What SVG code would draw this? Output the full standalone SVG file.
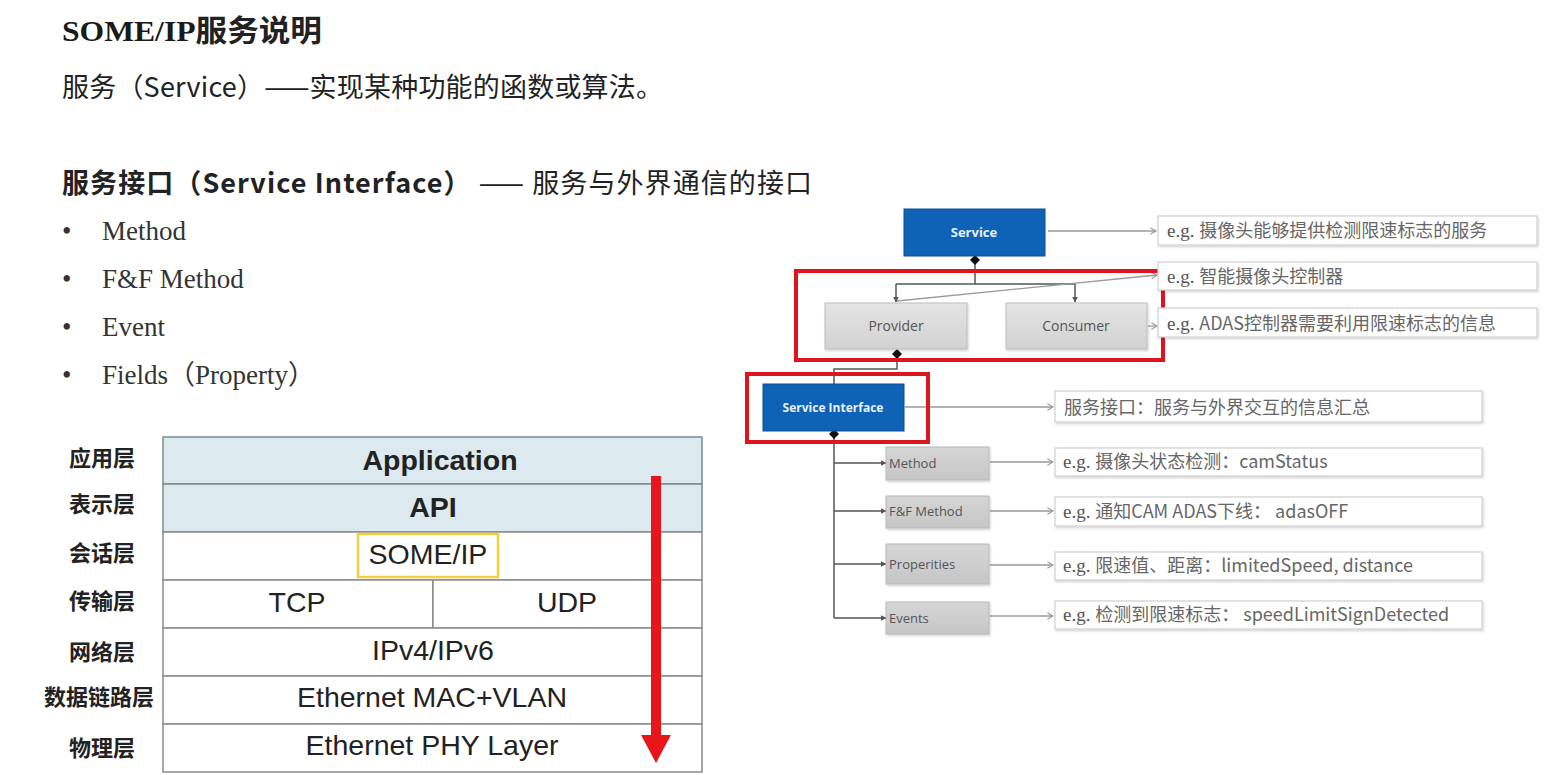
<svg xmlns="http://www.w3.org/2000/svg" width="1568" height="775" viewBox="0 0 1568 775">
<defs>
<style>
.h{font-family:"Liberation Serif","Noto Sans CJK SC",serif;fill:#1a1a1a}
.cj{font-family:"Noto Sans CJK SC",sans-serif;fill:#222}
.bul{font-family:"Liberation Serif","Noto Sans CJK SC",serif;font-size:27px;fill:#333}
.lab{font-family:"Noto Sans CJK SC",sans-serif;font-size:22px;font-weight:700;fill:#222;text-anchor:middle}
.tb{font-family:"Liberation Sans",Arial,sans-serif;font-size:28.5px;fill:#222;text-anchor:middle}
.cell{fill:#fff;stroke:#8a8a8a;stroke-width:1.5}
.blue{fill:#dce9ee;stroke:#7a8a90;stroke-width:1.5}
.bbox{fill:#0e63b6;stroke:#0a4f94;stroke-width:1}
.btxt{font-family:"Open Sans","Liberation Sans",sans-serif;font-weight:700;fill:#e8f1fb;text-anchor:middle}
.gbox{fill:url(#gg);stroke:#bdbdbd;stroke-width:1;filter:url(#sh)}
.mbox{fill:url(#gm);stroke:#b8b8b8;stroke-width:1;filter:url(#sh)}
.gtxt{font-family:"Open Sans","Liberation Sans",sans-serif;font-size:14px;fill:#555;text-anchor:middle}
.mtxt{font-family:"Open Sans","Liberation Sans",sans-serif;font-size:13px;fill:#555}
.ebox{fill:#fff;stroke:#d0d0d0;stroke-width:1.2;filter:url(#sh)}
.etxt{font-family:"Noto Sans CJK SC",sans-serif;font-size:18px;fill:#666}
.eg{font-family:"Liberation Serif",serif;font-size:19px;fill:#555}
.red{fill:none;stroke:#e0141e;stroke-width:4}
.tree{fill:none;stroke:#555;stroke-width:1.5}
.arr{fill:none;stroke:#9a9a9a;stroke-width:1.3;marker-end:url(#oa)}
</style>
<linearGradient id="gg" x1="0" y1="0" x2="0" y2="1"><stop offset="0" stop-color="#e4e4e4"/><stop offset="1" stop-color="#d2d2d2"/></linearGradient>
<linearGradient id="gm" x1="0" y1="0" x2="0" y2="1"><stop offset="0" stop-color="#d6d6d6"/><stop offset="1" stop-color="#c6c6c6"/></linearGradient>
<filter id="sh" x="-10%" y="-20%" width="130%" height="150%"><feDropShadow dx="1" dy="1.5" stdDeviation="1" flood-color="#000" flood-opacity="0.18"/></filter>
<marker id="oa" viewBox="0 0 10 10" refX="9" refY="5" markerWidth="8" markerHeight="8" markerUnits="userSpaceOnUse" orient="auto"><polyline points="2,1 9,5 2,9" fill="none" stroke="#9a9a9a" stroke-width="1.5"/></marker>
<marker id="ta" viewBox="0 0 10 10" refX="9" refY="5" markerWidth="6" markerHeight="6" markerUnits="userSpaceOnUse" orient="auto"><path d="M0,0 L10,5 L0,10 Z" fill="#555"/></marker>
</defs>
<rect width="1568" height="775" fill="#fff"/>

<g id="heading">
<text x="62" y="41" class="h" font-size="30" font-weight="700" textLength="260" lengthAdjust="spacingAndGlyphs">SOME/IP<tspan class="cj" font-weight="700">服务说明</tspan></text>
<text x="62" y="97" class="cj" font-size="27" textLength="601" lengthAdjust="spacing">服务（Service）——实现某种功能的函数或算法。</text>
<text x="62" y="193" class="cj" font-size="27" textLength="750" lengthAdjust="spacing"><tspan font-weight="700">服务接口（Service Interface）</tspan> —— 服务与外界通信的接口</text>
</g>

<g id="bullets">
<text x="62" y="240" class="bul">•</text><text x="102" y="240" class="bul">Method</text>
<text x="62" y="288" class="bul">•</text><text x="102" y="288" class="bul">F&amp;F Method</text>
<text x="62" y="336" class="bul">•</text><text x="102" y="336" class="bul">Event</text>
<text x="62" y="384" class="bul">•</text><text x="102" y="384" class="bul">Fields（Property）</text>
</g>

<g id="osi-table">
<rect x="163" y="437" width="539" height="47" class="blue"/>
<rect x="163" y="484" width="539" height="48" class="blue"/>
<rect x="163" y="532" width="539" height="48" class="cell"/>
<rect x="163" y="580" width="270" height="48" class="cell"/>
<rect x="433" y="580" width="269" height="48" class="cell"/>
<rect x="163" y="628" width="539" height="48" class="cell"/>
<rect x="163" y="676" width="539" height="48" class="cell"/>
<rect x="163" y="724" width="539" height="48" class="cell"/>
<rect x="358" y="534" width="140" height="43" fill="#fff" stroke="#f0d040" stroke-width="2.5"/>
<text x="440" y="470" class="tb" font-weight="700">Application</text>
<text x="433" y="517" class="tb" font-weight="700">API</text>
<text x="428" y="564" class="tb">SOME/IP</text>
<text x="297" y="612" class="tb">TCP</text>
<text x="567" y="612" class="tb">UDP</text>
<text x="433" y="660" class="tb">IPv4/IPv6</text>
<text x="432" y="707" class="tb">Ethernet MAC+VLAN</text>
<text x="432" y="755" class="tb">Ethernet PHY Layer</text>
<text x="102" y="466" class="lab">应用层</text>
<text x="102" y="512" class="lab">表示层</text>
<text x="102" y="561" class="lab">会话层</text>
<text x="102" y="609" class="lab">传输层</text>
<text x="102" y="660" class="lab">网络层</text>
<text x="99" y="705" class="lab">数据链路层</text>
<text x="102" y="756" class="lab">物理层</text>
</g>

<g id="red-arrow">
<rect x="651" y="476" width="10" height="262" fill="#e8141b"/>
<polygon points="641,735 671,735 656,763" fill="#e8141b"/>
</g>

<g id="connectors">
<line x1="1048" y1="231" x2="1156" y2="231" class="arr"/>
<polyline points="975,262 975,284" class="tree"/>
<polyline points="896,284 1075,284" class="tree"/>
<line x1="896" y1="284" x2="896" y2="302" class="tree" marker-end="url(#ta)"/>
<line x1="1075" y1="284" x2="1075" y2="302" class="tree" marker-end="url(#ta)"/>
<line x1="897" y1="301" x2="1157" y2="275" class="arr"/>
<line x1="1148" y1="326" x2="1157" y2="326" class="arr"/>
<polyline points="897,356 897,369 834,369 834,384" class="tree"/>
<line x1="905" y1="407" x2="1053" y2="407" class="arr"/>
<polyline points="834,436 834,618" class="tree"/>
<line x1="834" y1="463" x2="886" y2="463" class="tree" marker-end="url(#ta)"/>
<line x1="834" y1="511" x2="886" y2="511" class="tree" marker-end="url(#ta)"/>
<line x1="834" y1="564" x2="886" y2="564" class="tree" marker-end="url(#ta)"/>
<line x1="834" y1="618" x2="886" y2="618" class="tree" marker-end="url(#ta)"/>
<line x1="990" y1="462" x2="1053" y2="462" class="arr"/>
<line x1="990" y1="511" x2="1053" y2="511" class="arr"/>
<line x1="990" y1="565" x2="1053" y2="565" class="arr"/>
<line x1="990" y1="616" x2="1053" y2="616" class="arr"/>
<polygon points="975,255 980,260 975,265 970,260" fill="#111"/>
<polygon points="897,349 902,354 897,359 892,354" fill="#111"/>
<polygon points="834,429 839,434 834,439 829,434" fill="#111"/>
</g>

<g id="service">
<rect x="904" y="209" width="141" height="47" class="bbox"/>
<text x="974" y="237" class="btxt" font-size="13">Service</text>
</g>
<g id="provider">
<rect x="825" y="303" width="142" height="46" class="gbox"/>
<text x="896" y="331" class="gtxt">Provider</text>
</g>
<g id="consumer">
<rect x="1006" y="303" width="141" height="46" class="gbox"/>
<text x="1076" y="331" class="gtxt">Consumer</text>
</g>
<g id="service-interface">
<rect x="763" y="384" width="141" height="47" class="bbox"/>
<text x="833" y="412" class="btxt" font-size="12">Service Interface</text>
</g>
<g id="method">
<rect x="886" y="447" width="103" height="33" class="mbox"/>
<text x="889" y="468" class="mtxt">Method</text>
</g>
<g id="ff-method">
<rect x="886" y="496" width="103" height="32" class="mbox"/>
<text x="889" y="516" class="mtxt">F&amp;F Method</text>
</g>
<g id="properities">
<rect x="886" y="544" width="103" height="40" class="mbox"/>
<text x="889" y="569" class="mtxt">Properities</text>
</g>
<g id="events">
<rect x="886" y="602" width="103" height="32" class="mbox"/>
<text x="889" y="623" class="mtxt">Events</text>
</g>

<g id="red-frames">
<rect x="796" y="271" width="367" height="89" class="red"/>
<rect x="747" y="374" width="181" height="68" class="red"/>
</g>

<g id="note-service">
<rect x="1158" y="216" width="379" height="29" class="ebox"/>
<text x="1167" y="237" class="eg">e.g. <tspan class="etxt" font-size="19.5">摄像头能够提供检测限速标志的服务</tspan></text>
</g>
<g id="note-provider">
<rect x="1158" y="262" width="379" height="28" class="ebox"/>
<text x="1167" y="283" class="eg">e.g. <tspan class="etxt" font-size="19.5">智能摄像头控制器</tspan></text>
</g>
<g id="note-consumer">
<rect x="1158" y="308" width="379" height="29" class="ebox"/>
<text x="1167" y="330" class="eg">e.g. <tspan class="etxt" font-size="19.5">ADAS控制器需要利用限速标志的信息</tspan></text>
</g>
<g id="note-si">
<rect x="1055" y="391" width="427" height="31" class="ebox"/>
<text x="1064" y="414" class="etxt" font-size="19.5">服务接口：服务与外界交互的信息汇总</text>
</g>
<g id="note-method">
<rect x="1055" y="448" width="427" height="28" class="ebox"/>
<text x="1063" y="468" class="eg">e.g. <tspan class="etxt">摄像头状态检测：camStatus</tspan></text>
</g>
<g id="note-ff">
<rect x="1055" y="497" width="427" height="29" class="ebox"/>
<text x="1063" y="518" class="eg">e.g. <tspan class="etxt">通知CAM ADAS下线： adasOFF</tspan></text>
</g>
<g id="note-prop">
<rect x="1055" y="552" width="427" height="28" class="ebox"/>
<text x="1063" y="572" class="eg">e.g. <tspan class="etxt">限速值、距离：limitedSpeed, distance</tspan></text>
</g>
<g id="note-events">
<rect x="1055" y="601" width="427" height="28" class="ebox"/>
<text x="1063" y="621" class="eg">e.g. <tspan class="etxt">检测到限速标志： speedLimitSignDetected</tspan></text>
</g>
</svg>
